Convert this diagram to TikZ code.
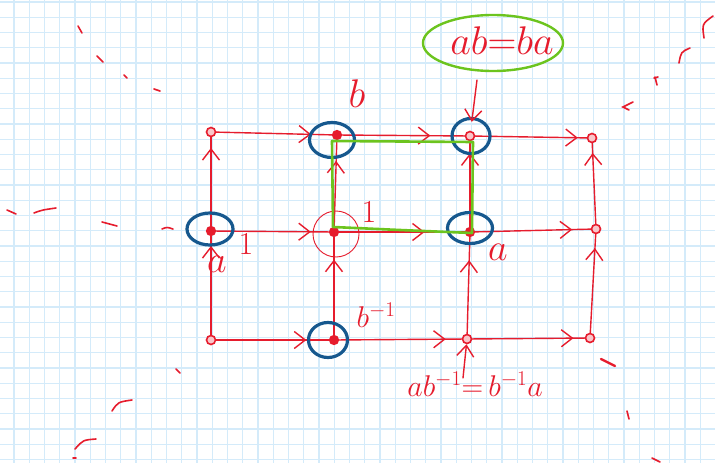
\RequirePackage{fix-cm}
\documentclass[tikz,border=0pt]{standalone}
\usetikzlibrary{arrows.meta,decorations.markings,shapes.geometric}
\definecolor{inkred}{RGB}{230,28,45}
\definecolor{inkblue}{RGB}{22,88,142}
\definecolor{inkgreen}{RGB}{108,196,30}
\definecolor{gridblue}{RGB}{212,235,250}
\tikzset{
  chev/.tip={Straight Barb[length=11pt,width=17pt]},
  gridline/.style={draw=gridblue, line width=1.3pt},
  edge/.style={draw=inkred, line width=1.4pt, line cap=round, line join=round},
  arrowat/.style={postaction={decorate},
    decoration={markings, mark=at position #1 with {\arrow{chev}}}},
  dotopen/.style={circle, draw=inkred, line width=1.6pt, fill=inkred!25,
    minimum size=9pt, inner sep=0pt},
  dotfull/.style={circle, draw=inkred, line width=1.2pt, fill=inkred,
    minimum size=9pt, inner sep=0pt},
  bluering/.style={ellipse, draw=inkblue, line width=3.2pt, inner sep=0pt},
  thinring/.style={circle, draw=inkred, line width=0.9pt, inner sep=0pt,
    minimum size=46pt},
  greenline/.style={draw=inkgreen, line width=2.6pt, line join=round},
  greenring/.style={ellipse, draw=inkgreen, line width=2.4pt, inner sep=0pt,
    minimum width=140pt, minimum height=56pt},
  hand/.style={text=inkred, inner sep=0pt},
  stray/.style={draw=inkred, line width=1.6pt, line cap=round},
}
\begin{document}
\begin{tikzpicture}[x=1pt, y=-1pt]
  % paper
  \useasboundingbox (0,0) rectangle (715,463);
  \fill[white] (0,0) rectangle (715,463);
  \foreach \i in {0,...,46} \draw[gridline] ({14+15.25*\i},0) -- ++(0,463);
  \foreach \j in {0,...,30} \draw[gridline] (0,{2+15.25*\j}) -- ++(715,0);

  % lattice points
  \node[dotopen] (t1) at (211,132) {};
  \node[dotfull] (t2) at (337,135) {};
  \node[dotopen] (t3) at (470,136) {};
  \node[dotopen] (t4) at (592,138) {};
  \node[dotfull] (m1) at (211,231) {};
  \node[dotfull] (m2) at (334,232) {};
  \node[dotfull] (m3) at (470,232) {};
  \node[dotopen] (m4) at (596,229) {};
  \node[dotopen] (b1) at (211,340) {};
  \node[dotfull] (b2) at (334,340) {};
  \node[dotopen] (b3) at (467,339) {};
  \node[dotopen] (b4) at (590,338) {};

  % horizontal edges (a)
  \draw[edge, arrowat=0.82] (t1) -- (t2);
  \draw[edge, arrowat=0.72] (t2) -- (t3);
  \draw[edge, arrowat=0.92] (t3) -- (t4);
  \draw[edge, arrowat=0.84] (m1) -- (m2);
  \draw[edge, arrowat=0.68] (m2) -- (m3);
  \draw[edge, arrowat=0.84] (m3) -- (m4);
  \draw[edge, arrowat=0.80] (b1) -- (b2);
  \draw[edge, arrowat=0.87] (b2) -- (b3);
  \draw[edge, arrowat=0.90] (b3) -- (b4);

  % vertical edges (b)
  \draw[edge, arrowat=0.90] (b1) -- (m1);
  \draw[edge, arrowat=0.88] (m1) -- (t1);
  \draw[edge, arrowat=0.77] (b2) -- (m2);
  \draw[edge, arrowat=0.76] (m2) -- (t2);
  \draw[edge, arrowat=0.76] (b3) -- (m3);
  \draw[edge, arrowat=0.86] (m3) -- (t3);
  \draw[edge, arrowat=0.86] (b4) -- (m4);
  \draw[edge, arrowat=0.88] (m4) -- (t4);

  % marked elements
  \node[bluering, minimum width=45pt, minimum height=35pt] (rb) at (332,140) {};
  \node[bluering, minimum width=38pt, minimum height=35pt] (rab) at (471,136) {};
  \node[bluering, minimum width=46pt, minimum height=32pt] (ra) at (210,229) {};
  \node[bluering, minimum width=45pt, minimum height=31pt] (rba) at (470,228) {};
  \node[bluering, minimum width=39pt, minimum height=35pt] (rbinv) at (328,340) {};
  \node[thinring] (rone) at (336,234) {};

  % commuting square
  \coordinate (g1) at (332,141);
  \coordinate (g2) at (473,142);
  \coordinate (g3) at (472,233);
  \coordinate (g4) at (333,227);
  \draw[greenline] (g1) -- (g2) -- (g3) -- (400,230) -- (g4) -- cycle;

  % relation ab = ba
  \node[greenring] (eq) at (493,43) {};
  \node[hand, font=\fontsize{40}{44}\selectfont] (eqtext) at (502,41) {$ab{=}ba$};
  \coordinate (eqfoot) at (477,80);
  \draw[edge, -chev, shorten >=9pt] (eqfoot) -- (t3);

  % relation ab^{-1} = b^{-1}a
  \node[hand, font=\fontsize{30}{34}\selectfont] (reltext) at (475,384) {$ab^{-1}{=}\,b^{-1}a$};
  \coordinate (relhead) at (463,378);
  \draw[edge, -chev] (relhead) -- (b3);

  % element labels
  \node[hand, font=\fontsize{40}{44}\selectfont] (lb) at (357,94) {$b$};
  \node[hand, font=\fontsize{32}{36}\selectfont] (lone) at (369,212) {$1$};
  \node[hand, font=\fontsize{32}{36}\selectfont] (lone2) at (246,244) {$1$};
  \node[hand, font=\fontsize{38}{42}\selectfont] (la) at (217,264) {$a$};
  \node[hand, font=\fontsize{38}{42}\selectfont] (la2) at (498,252) {$a$};
  \node[hand, font=\fontsize{30}{34}\selectfont] (lbinv) at (376,315) {$b^{-1}$};

  % loose pen strokes
  \draw[stray] (78,26) -- (82,33);
  \draw[stray] (97,56) -- (103,62);
  \draw[stray] (124,75) -- (127,78);
  \draw[stray] (154,89) -- (160,91);
  \draw[stray] (7,210) -- (16,214);
  \draw[stray] (34,213) .. controls (42,210) .. (56,208);
  \draw[stray] (102,222) -- (117,226);
  \draw[stray] (162,229) .. controls (167,227) .. (173,229);
  \draw[stray] (176,369) -- (180,373);
  \draw[stray] (112,411) .. controls (118,402) .. (132,400);
  \draw[stray] (75,449) .. controls (83,440) .. (96,439);
  \draw[stray] (73,458) -- (76,458);
  \draw[stray] (704,38) .. controls (702,24) .. (713,16);
  \draw[stray] (679,63) .. controls (681,52) .. (690,48);
  \draw[stray] (654,78) -- (658,77) (655,77) -- (657,85);
  \draw[stray] (633,102) -- (623,107) -- (629,110);
  \draw[stray, line width=2.4pt] (601,359) -- (615,366);
  \draw[stray] (627,411) -- (629,419);
  \draw[stray] (652,458) -- (660,462);
\end{tikzpicture}
\end{document}
